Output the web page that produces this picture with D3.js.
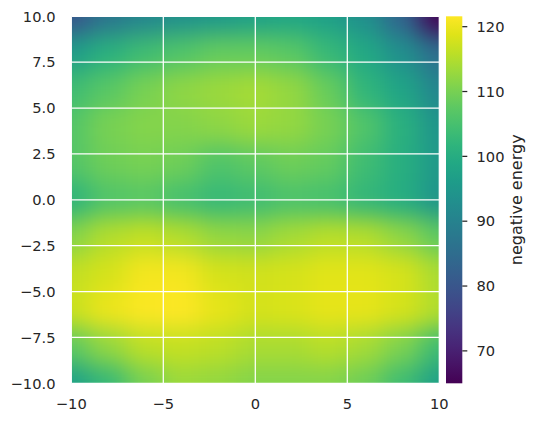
<!DOCTYPE html>
<html>
<head>
<meta charset="utf-8">
<script src="https://cdn.jsdelivr.net/npm/d3@7"></script>
<style>
  body { margin: 0; background: #fff; }
  text { font-family: "DejaVu Sans", sans-serif; fill: #262626; }
</style>
</head>
<body>
<div id="chart"></div>
<script>
// grid positions of the sampled field
var xValues = [-10, -8, -6, -4, -2, 0, 2, 4, 6, 8, 10];
var yValues = [10, 8, 6, 4, 2, 0, -2, -4, -6, -8, -10];

// negative energy, one row per y value (top to bottom)
var row10  = [80, 87, 91, 93.5, 95.5, 97.5, 98.5, 97, 93, 83, 65];
var row8   = [96, 101, 104, 106, 108, 108, 107, 103, 99, 93, 85];
var row6   = [104, 107, 110, 112, 113, 114, 112.5, 108.5, 102, 98, 91];
var row4   = [106.5, 110, 111, 111, 112, 113, 112.5, 110, 106, 101, 94.5];
var row2   = [106.5, 109, 110, 109, 106, 107.5, 109, 108, 104, 100.5, 95.5];
var row0   = [101.5, 106, 107, 105, 103, 104, 105.5, 105, 102.5, 100, 94.5];
var rowM2  = [111, 115, 116.5, 115, 112.5, 112, 114, 115.5, 115, 112, 107.5];
var rowM4  = [116.5, 118, 120.5, 120.5, 118, 117.5, 118, 119, 119, 118, 114.5];
var rowM6  = [117, 120, 121.3, 121.6, 119.5, 118, 118.5, 119.5, 119.5, 118, 115];
var rowM8  = [107.5, 112.5, 116, 116.7, 116, 114.5, 114.5, 115.5, 114, 110.5, 104];
var rowM10 = [97.5, 103, 110, 113, 112.5, 111, 111, 111, 109, 104, 97];
var energy = [row10, row8, row6, row4, row2, row0, rowM2, rowM4, rowM6, rowM8, rowM10];

var xTicks = [-10, -5, 0, 5, 10];
var yTicks = [-10, -7.5, -5, -2.5, 0, 2.5, 5, 7.5, 10];
var cbarTicks = [70, 80, 90, 100, 110, 120];
var vMin = 65, vMax = 121.6;

var svgWidth = 536, svgHeight = 423;
var plot = { left: 71.3, right: 439.3, top: 16.3, bottom: 383.3 };
var cbar = { left: 446, right: 462.3, top: 16.3, bottom: 383.3 };

var svg = d3.select("#chart").append("svg")
  .attr("width", svgWidth)
  .attr("height", svgHeight);

var x = d3.scaleLinear().domain([-10, 10]).range([plot.left, plot.right]);
var y = d3.scaleLinear().domain([-10, 10]).range([plot.bottom, plot.top]);
var color = d3.scaleSequential(d3.interpolateViridis).domain([vMin, vMax]);

var defs = svg.append("defs");
defs.append("clipPath").attr("id", "plotClip")
  .append("rect")
  .attr("x", plot.left).attr("y", plot.top)
  .attr("width", plot.right - plot.left).attr("height", plot.bottom - plot.top);

// soften the sampled cells so the field reads as a smooth image
var blur = defs.append("filter").attr("id", "smooth")
  .attr("filterUnits", "userSpaceOnUse")
  .attr("x", plot.left - 60).attr("y", plot.top - 60)
  .attr("width", plot.right - plot.left + 120).attr("height", plot.bottom - plot.top + 120)
  .attr("color-interpolation-filters", "sRGB");
blur.append("feGaussianBlur").attr("stdDeviation", 11.5);
blur.append("feComponentTransfer").append("feFuncA")
  .attr("type", "table").attr("tableValues", "1 1");

var cellW = Math.abs(x(xValues[1]) - x(xValues[0]));
var cellH = Math.abs(y(yValues[1]) - y(yValues[0]));

var cells = [];
energy.forEach(function(row, i) {
  row.forEach(function(v, j) {
    cells.push({ x: xValues[j], y: yValues[i], v: v });
  });
});

svg.append("g").attr("clip-path", "url(#plotClip)")
  .append("g").attr("filter", "url(#smooth)")
  .selectAll("rect")
  .data(cells)
  .enter().append("rect")
  .attr("x", function(d) { return x(d.x) - cellW / 2 - 0.5; })
  .attr("y", function(d) { return y(d.y) - cellH / 2 - 0.5; })
  .attr("width", cellW + 1)
  .attr("height", cellH + 1)
  .attr("fill", function(d) { return color(d.v); });

// white grid on top of the image
var grid = svg.append("g").attr("stroke", "#fff").attr("stroke-width", 1.25);
grid.selectAll("line.gx").data(xTicks).enter().append("line")
  .attr("x1", function(d) { return x(d); }).attr("x2", function(d) { return x(d); })
  .attr("y1", plot.top).attr("y2", plot.bottom);
grid.selectAll("line.gy").data(yTicks).enter().append("line")
  .attr("y1", function(d) { return y(d); }).attr("y2", function(d) { return y(d); })
  .attr("x1", plot.left).attr("x2", plot.right);

// tick labels
svg.append("g").selectAll("text").data(xTicks).enter().append("text")
  .attr("x", function(d) { return x(d); })
  .attr("y", 409)
  .attr("text-anchor", "middle")
  .style("font-size", "14.67px")
  .text(function(d) { return d3.format("")(d).replace("-", "\u2212"); });

svg.append("g").selectAll("text").data(yTicks).enter().append("text")
  .attr("x", 55.5)
  .attr("y", function(d) { return y(d); })
  .attr("dy", "0.36em")
  .attr("text-anchor", "end")
  .style("font-size", "14.67px")
  .text(function(d) { return d3.format(".1f")(d).replace("-", "\u2212"); });

// colorbar
var cy = d3.scaleLinear().domain([vMin, vMax]).range([cbar.bottom, cbar.top]);
var grad = defs.append("linearGradient").attr("id", "cbarGrad")
  .attr("x1", 0).attr("y1", 1).attr("x2", 0).attr("y2", 0);
grad.selectAll("stop").data(d3.range(0, 1.0001, 0.05)).enter().append("stop")
  .attr("offset", function(t) { return t; })
  .attr("stop-color", function(t) { return color(vMin + t * (vMax - vMin)); });
svg.append("rect")
  .attr("x", cbar.left)
  .attr("y", cy(vMax))
  .attr("width", cbar.right - cbar.left)
  .attr("height", cy(vMin) - cy(vMax))
  .attr("fill", "url(#cbarGrad)");

var cbAxis = svg.append("g");
cbAxis.selectAll("line").data(cbarTicks).enter().append("line")
  .attr("x1", cbar.right).attr("x2", cbar.right + 5)
  .attr("y1", function(d) { return cy(d); }).attr("y2", function(d) { return cy(d); })
  .attr("stroke", "#262626").attr("stroke-width", 1.25);
cbAxis.selectAll("text").data(cbarTicks).enter().append("text")
  .attr("x", 476.5)
  .attr("y", function(d) { return cy(d); })
  .attr("dy", "0.36em")
  .style("font-size", "14.67px")
  .text(function(d) { return d; });

svg.append("text")
  .attr("transform", "translate(522," + ((cbar.top + cbar.bottom) / 2) + ") rotate(-90)")
  .attr("text-anchor", "middle")
  .style("font-size", "16px")
  .text("negative energy");
</script>
</body>
</html>
